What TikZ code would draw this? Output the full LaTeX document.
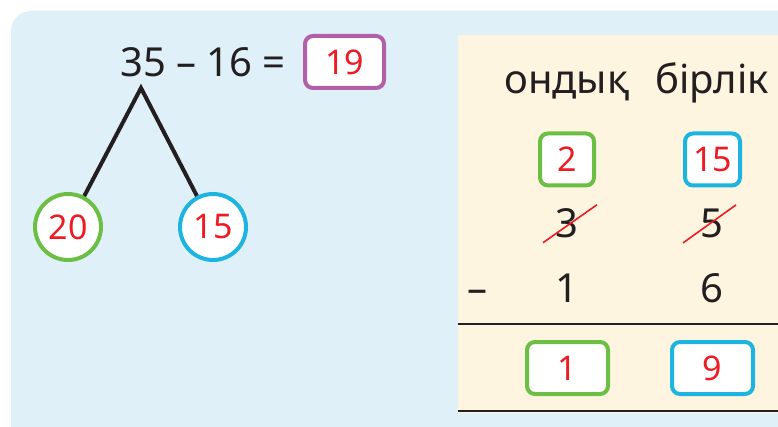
\documentclass[tikz,border=0pt]{standalone}
\usepackage{fontspec}
\setmainfont{Noto Sans}
\definecolor{skyback}{HTML}{DFF0F8}
\definecolor{creamback}{HTML}{FDF5DF}
\definecolor{tengreen}{HTML}{6DBE45}
\definecolor{onecyan}{HTML}{1DB5E0}
\definecolor{ansviolet}{HTML}{B35FA8}
\definecolor{digitred}{HTML}{ED1C24}
\definecolor{inkdark}{HTML}{231F20}
\begin{document}
\begin{tikzpicture}[x=1pt, y=-1pt,
        part/.style={circle, draw, line width=4pt, fill=white, minimum size=66pt, inner sep=0pt, text=digitred, font=\fontsize{34}{40}\selectfont},
        digitbox/.style={rectangle, rounded corners=8pt, draw, line width=4pt, fill=white, minimum width=54pt, minimum height=52pt, inner sep=0pt, text=digitred, font=\fontsize{34}{40}\selectfont},
        plain/.style={text=inkdark, inner sep=0pt, anchor=base, font=\fontsize{40}{48}\selectfont},
        branch/.style={draw=inkdark, line width=4pt},
        rule/.style={draw=inkdark, line width=2.5pt},
        strike/.style={draw=digitred, line width=1.6pt}
        ]
      \useasboundingbox (0,0) rectangle (778,427);
      \clip (0,0) rectangle (778,427);
      \fill[skyback, rounded corners=20pt] (11,11) rectangle (820,460);
      \fill[creamback] (458,35) rectangle (800,413);

      % number tree
      \node[plain] (eq) at (203,77) {35 – 16 =};
      \node[digitbox, draw=ansviolet, minimum width=79pt] (ans) at (344.5,62) {19};
      \coordinate (top) at (141,88);
      \node[part, draw=tengreen] (tens) at (68,227) {20};
      \node[part, draw=onecyan] (ones) at (213,227) {15};
      \draw[branch] (tens) -- (top) -- (ones);

      % column subtraction
      \node[plain] (hd1) at (567,94) {ондық};
      \node[plain] (hd2) at (712,94) {бірлік};
      \node[digitbox, draw=tengreen] (swap1) at (567,159.5) {2};
      \node[digitbox, draw=onecyan, minimum width=55pt] (swap2) at (712.5,159.5) {15};
      \node[plain] (a1) at (567,238) {3};
      \node[plain] (a2) at (712,238) {5};
      \draw[strike] ([shift={(-24,19)}]a1.center) -- ([shift={(30,-19)}]a1.center);
      \draw[strike] ([shift={(-29,19)}]a2.center) -- ([shift={(24,-19)}]a2.center);
      \node[plain] (minus) at (477,302) {–};
      \node[plain] (b1) at (567,302) {1};
      \node[plain] (b2) at (712,302) {6};
      \draw[rule] (458,324) -- (778,324);
      \node[digitbox, draw=tengreen, minimum width=81pt] (res1) at (567.5,368) {1};
      \node[digitbox, draw=onecyan, minimum width=81pt] (res2) at (712.5,368) {9};
      \draw[rule] (458,411) -- (778,411);

    \end{tikzpicture}
\end{document}
